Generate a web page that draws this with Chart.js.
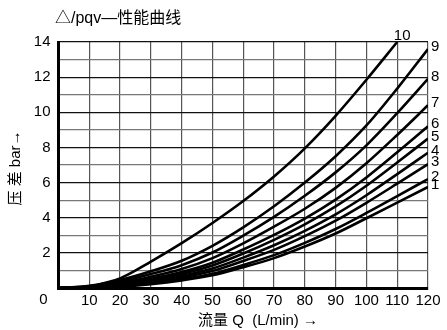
<!DOCTYPE html>
<html>
<head>
<meta charset="utf-8">
<script src="https://cdn.jsdelivr.net/npm/chart.js@4/dist/chart.umd.min.js"></script>
<style>
html,body{margin:0;padding:0;background:#fff;}
#wrap{width:447px;height:330px;position:relative;}
</style>
</head>
<body>
<div id="wrap"><canvas id="c" width="447" height="330"></canvas></div>
<script>
// Flow (L/min)
const flow = [0, 10, 20, 30, 40, 50, 60, 70, 80, 90, 100, 110, 120];
const flow10 = [0, 10, 20, 30, 40, 50, 60, 70, 80, 90, 100, 110];
// Pressure difference (bar) per curve
const curve1 = [0, 0.02, 0.08, 0.22, 0.43, 0.72, 1.18, 1.7, 2.36, 3.1, 3.97, 4.86, 5.75];
const curve2 = [0, 0.022, 0.10, 0.26, 0.50, 0.81, 1.31, 1.87, 2.57, 3.36, 4.27, 5.23, 6.2];
const curve3 = [0, 0.03, 0.13, 0.32, 0.60, 0.97, 1.54, 2.17, 2.95, 3.83, 4.85, 5.94, 7.05];
const curve4 = [0, 0.035, 0.16, 0.39, 0.69, 1.11, 1.73, 2.43, 3.25, 4.19, 5.28, 6.48, 7.7];
const curve5 = [0, 0.044, 0.20, 0.46, 0.80, 1.28, 1.96, 2.74, 3.62, 4.64, 5.82, 7.14, 8.5];
const curve6 = [0, 0.053, 0.24, 0.53, 0.91, 1.44, 2.19, 3.02, 3.95, 5.03, 6.29, 7.72, 9.2];
const curve7 = [0, 0.066, 0.29, 0.64, 1.08, 1.70, 2.54, 3.49, 4.51, 5.70, 7.10, 8.71, 10.4];
const curve8 = [0, 0.082, 0.36, 0.79, 1.30, 2.02, 2.98, 4.05, 5.25, 6.58, 8.12, 9.95, 11.9];
const curve9 = [0, 0.10, 0.45, 0.95, 1.55, 2.40, 3.45, 4.65, 6.00, 7.50, 9.25, 11.35, 13.6];
const curve10 = [0, 0.12, 0.55, 1.5, 2.55, 3.7, 4.95, 6.35, 7.95, 9.8, 11.85, 14.0];
const curveNames = ['1','2','3','4','5','6','7','8','9','10'];
const xTicks = [0,10,20,30,40,50,60,70,80,90,100,110,120];
const yTicks = [0,2,4,6,8,10,12,14];

const titleText = '△/pqv—性能曲线';
const yTitle = '压 差 bar→';
const xTitle = '流量 Q  (L/min) →';

const allCurves = [curve1,curve2,curve3,curve4,curve5,curve6,curve7,curve8,curve9,curve10];
const datasets = allCurves.map((vals, i) => {
  const xs = (i === 9) ? flow10 : flow;
  return {
    label: curveNames[i],
    data: vals.map((v, j) => ({x: xs[j], y: v})),
    borderColor: '#000',
    borderWidth: 2.6,
    pointRadius: 0,
    fill: false,
    cubicInterpolationMode: 'monotone'
  };
});

const FONT = '"Liberation Sans", Arial, "Noto Sans CJK SC", sans-serif';
const CJK = '"Liberation Sans", "Noto Sans CJK SC", sans-serif';

const decor = {
  id: 'decor',
  afterDatasetsDraw(chart) {
    const ctx = chart.ctx;
    const a = chart.chartArea;
    ctx.save();
    ctx.fillStyle = '#000';
    // curve labels
    ctx.font = '15px ' + FONT;
    chart.data.datasets.forEach((ds, i) => {
      const meta = chart.getDatasetMeta(i);
      const p = meta.data[meta.data.length - 1];
      if (i === 9) {
        ctx.textAlign = 'center';
        ctx.textBaseline = 'bottom';
        ctx.fillText(ds.label, p.x + 5, p.y + 1);
      } else {
        ctx.textAlign = 'left';
        ctx.textBaseline = 'middle';
        ctx.fillText(ds.label, p.x + 3, p.y - 2);
      }
    });
    // origin label
    ctx.font = '15px ' + FONT;
    ctx.textAlign = 'center';
    ctx.textBaseline = 'middle';
    ctx.fillText('0', a.left - 15, a.bottom + 12);
    // title
    ctx.font = '16px ' + CJK;
    ctx.textAlign = 'left';
    ctx.textBaseline = 'middle';
    ctx.fillText(titleText, 55, 19);
    // x title
    ctx.font = '15px ' + CJK;
    ctx.textAlign = 'center';
    ctx.fillText(xTitle, a.left + a.width * 0.54, 321);
    // y title
    ctx.translate(16, (a.top + a.bottom) / 2 + 3);
    ctx.rotate(-Math.PI / 2);
    ctx.fillText(yTitle, 0, 0);
    ctx.restore();
  }
};

new Chart(document.getElementById('c'), {
  type: 'line',
  data: { datasets },
  options: {
    responsive: false,
    animation: false,
    layout: { padding: { left: 0, right: 19, top: 42, bottom: 0 } },
    plugins: { legend: { display: false }, tooltip: { enabled: false }, title: { display: false } },
    scales: {
      x: {
        type: 'linear', min: 0, max: 120,
        afterBuildTicks: s => { s.ticks = xTicks.map(v => ({value: v})); },
        afterFit: s => { s.height = 42; },
        grid: { color: '#555', lineWidth: 1.2, drawTicks: false },
        border: { color: '#000', width: 3 },
        ticks: {
          padding: 4, color: '#000', font: { size: 15, family: FONT },
          maxRotation: 0, autoSkip: false,
          callback: v => (v === 0 ? '' : String(v))
        }
      },
      y: {
        type: 'linear', min: 0, max: 14,
        afterBuildTicks: s => { const t = []; for (let v = 0; v <= 14; v++) t.push({value: v}); s.ticks = t; },
        afterFit: s => { s.width = 58.5; },
        grid: {
          drawTicks: false, lineWidth: 1.2,
          color: c => (c.tick && c.tick.value % 2 === 0 ? '#111' : '#777')
        },
        border: { color: '#000', width: 3 },
        ticks: {
          padding: 8, color: '#000', font: { size: 15, family: FONT }, autoSkip: false,
          callback: v => (yTicks.includes(v) && v !== 0 ? String(v) : '')
        }
      }
    }
  },
  plugins: [decor]
});
</script>
</body>
</html>
